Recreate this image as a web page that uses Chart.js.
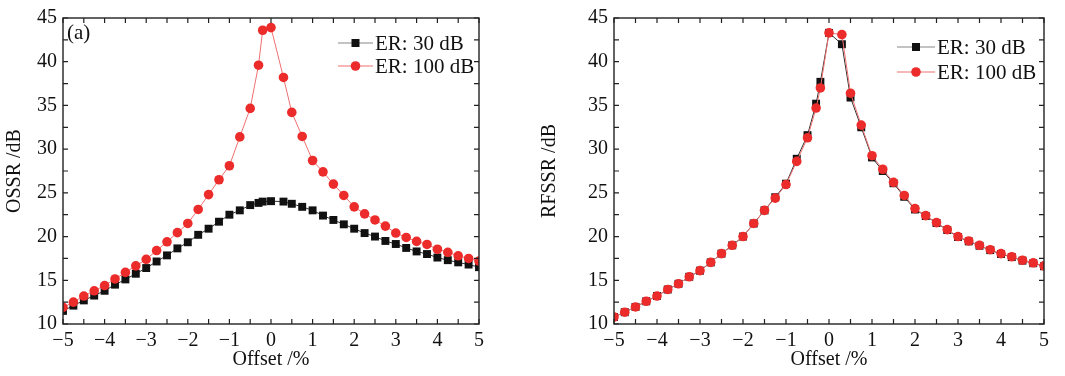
<!DOCTYPE html>
<html><head><meta charset="utf-8">
<script src="https://cdn.jsdelivr.net/npm/chart.js@4.4.0/dist/chart.umd.min.js"></script>
<style>
html,body{margin:0;padding:0;background:#fff;}
#wrap{position:relative;width:1065px;height:376px;overflow:hidden;}
canvas{position:absolute;top:0;}
</style></head><body>
<div id="wrap">
<canvas id="ca" width="535" height="376" style="left:0"></canvas>
<canvas id="cb" width="530" height="376" style="left:535px"></canvas>
</div>
<script>
// ---- data ----
const offsets = [-5,-4.75,-4.5,-4.25,-4,-3.75,-3.5,-3.25,-3,-2.75,-2.5,-2.25,-2,-1.75,-1.5,-1.25,-1,-0.75,-0.5,
  -0.3,-0.2,0,0.3,
  0.5,0.75,1,1.25,1.5,1.75,2,2.25,2.5,2.75,3,3.25,3.5,3.75,4,4.25,4.5,4.75,5];
const seriesNames = ['ER: 30 dB', 'ER: 100 dB'];
const ossr30 = [11.5,12.1,12.7,13.25,13.8,14.5,15.1,15.75,16.4,17.15,17.85,18.65,19.35,20.2,20.9,21.7,22.5,23.0,23.6,
  23.85,24.0,24.05,24.0,
  23.75,23.4,23.0,22.4,21.9,21.4,20.9,20.4,20.0,19.5,19.15,18.7,18.3,18.0,17.6,17.3,17.05,16.8,16.5];
const ossr100 = [11.9,12.5,13.2,13.8,14.4,15.15,15.9,16.65,17.4,18.4,19.4,20.45,21.5,23.1,24.8,26.5,28.1,31.4,34.66,
  39.6,43.6,43.9,38.2,
  34.2,31.45,28.7,27.4,26.0,24.7,23.4,22.6,21.9,21.2,20.4,19.9,19.45,19.1,18.55,18.2,17.8,17.5,17.2];
const rfssr30 = [10.8,11.35,11.95,12.6,13.2,13.95,14.6,15.4,16.1,17.05,18.05,19.0,20.0,21.5,23.0,24.5,26.05,28.9,31.6,
  35.2,37.7,43.3,42.0,
  35.9,32.5,29.05,27.5,26.1,24.55,23.1,22.35,21.55,20.75,19.95,19.45,18.95,18.45,18.0,17.65,17.25,16.95,16.6];
const rfssr100 = [10.8,11.35,11.95,12.6,13.2,13.95,14.6,15.4,16.1,17.05,18.05,19.0,20.0,21.5,23.0,24.4,25.95,28.6,31.3,
  34.7,37.0,43.3,43.1,
  36.4,32.75,29.25,27.7,26.2,24.7,23.2,22.4,21.6,20.8,20.0,19.5,19.0,18.5,18.05,17.7,17.3,17.0,16.65];
const xTickMin = -5, xTickMax = 5, xStep = 1;
const yTickMin = 10, yTickMax = 45, yStep = 5;

const FONT = "'Liberation Serif', 'DejaVu Serif', serif";
const BLACK = '#111111', BLACK_LINE = '#333333', BLACK_LEG = '#888888';
const RED = '#ec2b2b', RED_LINE = '#f07070';

function pts(ys){ return offsets.map((x,i)=>({x:x,y:ys[i]})); }

const framePlugin = {
  id:'frame',
  afterDatasetsDraw(chart){
    const {ctx, chartArea:a, scales} = chart;
    const xs = scales.x, ys = scales.y;
    ctx.save();
    ctx.strokeStyle = '#222';
    ctx.lineWidth = 1.4;
    ctx.strokeRect(a.left, a.top, a.right-a.left, a.bottom-a.top);
    ctx.lineWidth = 1.2;
    ctx.beginPath();
    for(let v=xTickMin; v<=xTickMax+1e-9; v+=xStep/2){
      const px = xs.getPixelForValue(v);
      const L = 5;
      ctx.moveTo(px, a.bottom); ctx.lineTo(px, a.bottom-L);
      ctx.moveTo(px, a.top); ctx.lineTo(px, a.top+L);
    }
    for(let v=yTickMin; v<=yTickMax+1e-9; v+=yStep/2){
      const py = ys.getPixelForValue(v);
      const L = 5;
      ctx.moveTo(a.left, py); ctx.lineTo(a.left+L, py);
      ctx.moveTo(a.right, py); ctx.lineTo(a.right-L, py);
    }
    ctx.stroke();
    ctx.restore();
  },
  afterDraw(chart){
    const o = chart.options.plugins.frame;
    const ctx = chart.ctx;
    ctx.save();
    ctx.fillStyle = '#111';
    ctx.font = '21px ' + FONT;
    ctx.textBaseline = 'middle';
    ctx.fillText(o.panel, o.panelX, o.panelY);
    // legend
    chart.data.datasets.forEach((ds,i)=>{
      const y = o.legY + i*o.legGap;
      ctx.strokeStyle = i===0 ? BLACK_LEG : RED_LINE;
      ctx.lineWidth = 1.2;
      ctx.beginPath(); ctx.moveTo(o.legX, y); ctx.lineTo(o.legX+o.legLine, y); ctx.stroke();
      ctx.fillStyle = ds.pointBackgroundColor;
      const cx = o.legX + o.legLine/2;
      if(ds.pointStyle==='rect'){ ctx.fillRect(cx-4, y-4, 8, 8); }
      else { ctx.beginPath(); ctx.arc(cx, y, 4.8, 0, Math.PI*2); ctx.fill(); }
      ctx.fillStyle = '#111';
      ctx.font = '21px ' + FONT;
      ctx.fillText(ds.label, o.legX+o.legLine+2, y+1);
    });
    ctx.restore();
  }
};

function makeChart(id, y30, y100, cfg){
  return new Chart(document.getElementById(id), {
    type:'line',
    data:{ datasets:[
      {label:seriesNames[0], data:pts(y30), borderColor:BLACK_LINE, borderWidth:1, pointStyle:'rect',
       pointRadius:5.6, pointBackgroundColor:BLACK, pointBorderWidth:0, pointBorderColor:BLACK, order:1, clip:0, tension:0},
      {label:seriesNames[1], data:pts(y100), borderColor:RED_LINE, borderWidth:1, pointStyle:'circle',
       pointRadius:4.8, pointBackgroundColor:RED, pointBorderWidth:0, pointBorderColor:RED, order:0, clip:0, tension:0}
    ]},
    options:{
      responsive:false, animation:false, devicePixelRatio:1,
      layout:{padding:{left:0, right:cfg.rightPad, top:cfg.top, bottom:0}},
      plugins:{ legend:{display:false}, tooltip:{enabled:false},
        frame:{panel:cfg.panel, panelX:cfg.panelX, panelY:cfg.panelY, legX:cfg.legX, legY:cfg.legY, legGap:cfg.legGap, legLine:cfg.legLine} },
      scales:{
        x:{ type:'linear', min:xTickMin, max:xTickMax,
            grid:{display:false, drawTicks:false}, border:{display:false},
            ticks:{stepSize:xStep, color:'#111', font:{family:FONT, size:20}, padding:5,
                   callback:v=> v<0 ? '\u2212'+Math.abs(v) : String(v)},
            title:{display:true, text:'Offset /%', color:'#111', font:{family:FONT, size:20}, padding:{top:0,bottom:4}},
            afterFit:s=>{ s.height = 52; } },
        y:{ type:'linear', min:yTickMin, max:yTickMax,
            grid:{display:false, drawTicks:false}, border:{display:false},
            ticks:{stepSize:yStep, color:'#111', font:{family:FONT, size:20}, padding:6},
            title:{display:true, text:cfg.ytitle, color:'#111', font:{family:FONT, size:20}, padding:{top:3,bottom:0}},
            afterFit:s=>{ s.width = cfg.yW; } }
      }
    },
    plugins:[framePlugin]
  });
}

makeChart('ca', ossr30, ossr100, {rightPad:56, top:15, yW:63, ytitle:'OSSR /dB',
  panel:'(a)', panelX:67, panelY:33, legX:338, legY:43, legGap:23, legLine:35});
makeChart('cb', rfssr30, rfssr100, {rightPad:21, top:17, yW:79, ytitle:'RFSSR /dB',
  panel:'(b)', panelX:620, panelY:33, legX:362, legY:47, legGap:25, legLine:38});
</script>
</body></html>
